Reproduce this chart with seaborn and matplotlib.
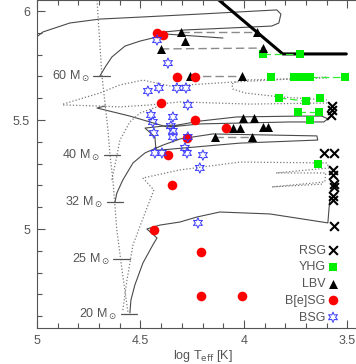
import numpy as np
import pandas as pd
import seaborn as sns
import matplotlib.pyplot as plt
from matplotlib.ticker import MultipleLocator

# --- stars: log Teff, log L/Lsun ---
rsg_teff = [3.575, 3.575, 3.580, 3.614, 3.565, 3.570, 3.570, 3.565, 3.565, 3.570, 3.570, 3.565]
rsg_lum = [5.564, 5.546, 5.523, 5.349, 5.349, 5.271, 5.248, 5.206, 5.193, 5.151, 5.133, 5.014]

yhg_teff = [3.908, 3.729, 3.870, 3.758, 3.720, 3.681, 3.512, 3.831, 3.700, 3.633, 3.739, 3.638, 3.681, 3.643]
yhg_lum = [5.803, 5.803, 5.697, 5.697, 5.697, 5.697, 5.697, 5.601, 5.587, 5.601, 5.537, 5.537, 5.500, 5.298]

lbv_teff = [4.304, 4.285, 4.401, 3.937, 3.908, 4.261, 4.010, 4.005, 3.952, 4.053, 4.019, 3.908, 3.884, 4.140, 3.961]
lbv_lum = [5.904, 5.862, 5.826, 5.904, 5.830, 5.702, 5.702, 5.509, 5.509, 5.463, 5.463, 5.468, 5.468, 5.422, 5.422]

besg_teff = [4.420, 4.391, 4.324, 4.237, 4.401, 4.237, 4.087, 4.275, 4.367, 4.348, 4.435, 4.208, 4.208, 4.010]
besg_lum = [5.899, 5.890, 5.697, 5.697, 5.578, 5.500, 5.463, 5.417, 5.339, 5.202, 4.995, 4.894, 4.693, 4.693]

bsg_teff = [4.420, 4.367, 4.464, 4.411, 4.324, 4.280, 4.271, 4.449, 4.440, 4.435, 4.343,
            4.353, 4.343, 4.343, 4.271, 4.430, 4.396, 4.285, 4.275, 4.198, 4.213, 4.222]
bsg_lum = [5.867, 5.761, 5.633, 5.647, 5.647, 5.647, 5.569, 5.523, 5.491, 5.440, 5.514,
           5.472, 5.450, 5.422, 5.422, 5.349, 5.349, 5.372, 5.349, 5.339, 5.280, 5.028]

# pairs of the same star at two epochs (teff1, teff2, lum1, lum2)
lbv_links = [(4.304, 3.937, 5.904, 5.904), (4.401, 3.908, 5.826, 5.830),
             (4.261, 4.010, 5.702, 5.702), (4.140, 3.961, 5.422, 5.422)]
yhg_links = [(3.908, 3.729, 5.803, 5.803), (3.681, 3.512, 5.697, 5.697),
             (3.831, 3.700, 5.601, 5.587), (3.739, 3.638, 5.537, 5.537)]

# Humphreys-Davidson limit
hd_teff = [4.133, 3.812, 3.505]
hd_lum = [6.06, 5.803, 5.803]

# --- evolutionary tracks ---
solid_tracks = [
    ([5.01, 4.971, 4.841, 4.696, 4.502, 4.213, 3.841, 3.821, 3.831, 3.865, 4.068, 4.285, 4.382],
     [5.875, 5.904, 5.945, 5.963, 5.972, 5.986, 6.005, 5.986, 5.945, 5.931, 5.922, 5.913, 5.904]),
    ([4.696, 4.667, 4.638, 4.575, 4.502, 4.420, 4.372, 4.101],
     [5.702, 5.748, 5.789, 5.839, 5.862, 5.881, 5.894, 5.876]),
    ([4.671, 4.710, 4.551, 4.372, 4.213, 4.034, 3.729, 3.623, 3.594, 3.614, 3.778, 4.019, 4.213, 4.357],
     [5.564, 5.555, 5.518, 5.468, 5.495, 5.514, 5.518, 5.518, 5.505, 5.491, 5.491, 5.486, 5.482, 5.468]),
    ([4.623, 4.614, 4.585, 4.536, 4.478, 4.391, 4.309, 4.150, 3.647, 3.643, 4.019, 4.406, 4.425, 4.430, 4.478, 4.343],
     [5.124, 5.165, 5.225, 5.303, 5.349, 5.385, 5.413, 5.436, 5.427, 5.408, 5.394, 5.362, 5.362, 5.422, 5.463, 5.477]),
    ([4.551, 4.546, 4.527, 4.488, 4.440, 4.420, 4.469, 4.406, 4.309, 4.227, 4.116, 3.874, 3.594, 3.589, 3.585],
     [4.615, 4.674, 4.743, 4.844, 4.927, 4.959, 5.000, 5.018, 5.032, 5.055, 5.078, 5.069, 5.028, 5.087, 5.133]),
]

dotted_tracks = [
    ([4.710, 4.686, 4.657, 4.647, 4.633, 4.614, 4.589, 4.560],
     [6.050, 5.702, 5.454, 5.339, 5.225, 4.995, 4.812, 4.615]),
    ([4.874, 4.696, 4.599, 4.488, 4.357, 4.053, 3.599],
     [5.573, 5.624, 5.661, 5.683, 5.656, 5.674, 5.697]),
    ([3.599, 4.019, 4.058, 4.053, 3.995, 3.826, 3.599],
     [5.693, 5.683, 5.665, 5.642, 5.624, 5.606, 5.592]),
    ([4.874, 4.696, 4.599, 4.454, 4.309, 3.971, 3.599],
     [5.569, 5.564, 5.560, 5.569, 5.583, 5.573, 5.578]),
    ([4.638, 4.618, 4.599, 4.551, 4.502, 4.420],
     [5.225, 5.317, 5.408, 5.491, 5.532, 5.560]),
    ([4.585, 4.565, 4.536, 4.469, 4.435, 4.488, 4.309, 4.019, 3.599, 3.589, 3.845, 3.604, 3.609, 3.865, 3.618],
     [4.628, 4.766, 4.927, 5.096, 5.179, 5.234, 5.271, 5.307, 5.303, 5.280, 5.257, 5.257, 5.216, 5.193, 5.206]),
]

# initial masses and ZAMS positions
masses = ['60', '40', '32', '25', '20']
zams_teff = [4.688, 4.638, 4.623, 4.592, 4.556]
zams_lum = [5.702, 5.339, 5.124, 4.862, 4.610]

GREY = '#555555'

sns.set_style('ticks')
plt.rcParams['font.family'] = ['Liberation Sans', 'DejaVu Sans']
plt.rcParams['mathtext.fontset'] = 'dejavusans'

fig = plt.figure(figsize=(3.56, 3.64), dpi=100)
ax = fig.add_axes([37 / 356, 1 - 328 / 364, 331 / 356, 328 / 364])

for t, l in solid_tracks:
    sns.lineplot(x=t, y=l, sort=False, estimator=None, color='#4a4a4a', lw=0.8, ax=ax, zorder=1)
for t, l in dotted_tracks:
    sns.lineplot(x=t, y=l, sort=False, estimator=None, color='#7a7a7a', lw=0.9,
                 ls=(0, (1, 1.6)), ax=ax, zorder=1)

sns.lineplot(x=hd_teff, y=hd_lum, sort=False, estimator=None, color='black', lw=2.2, ax=ax, zorder=2)

for t1, t2, l1, l2 in lbv_links:
    ax.plot([t1, t2], [l1, l2], color='#8a8a8a', lw=1.0, ls=(0, (6, 3)), zorder=2)
for t1, t2, l1, l2 in yhg_links:
    ax.plot([t1, t2], [l1, l2], color='#33ee33', lw=0.9, ls=(0, (6, 3)), zorder=2)

# mass labels with small ticks at the ZAMS
for m, t, l in zip(masses, zams_teff, zams_lum):
    ax.plot([t + 0.04, t - 0.04], [l, l], color=GREY, lw=0.9, zorder=2)
    ax.text(t + 0.055, l, f'{m} M$_\\odot$', ha='right', va='center', fontsize=9, color=GREY)

sns.scatterplot(x=yhg_teff, y=yhg_lum, marker='s', color='#00ee00', s=30, linewidth=0,
                ax=ax, zorder=3, label='YHG')
h_yhg = ax.collections[-1]
sns.scatterplot(x=rsg_teff, y=rsg_lum, marker='x', color='black', s=40, linewidth=1.5,
                ax=ax, zorder=3, label='RSG')
h_rsg = ax.collections[-1]
sns.scatterplot(x=lbv_teff, y=lbv_lum, marker='^', color='black', s=42, linewidth=0,
                ax=ax, zorder=4, label='LBV')
h_lbv = ax.collections[-1]
sns.scatterplot(x=besg_teff, y=besg_lum, marker='o', color='#ff0000', s=48, linewidth=0,
                ax=ax, zorder=4, label='B[e]SG')
h_besg = ax.collections[-1]
sns.scatterplot(x=bsg_teff, y=bsg_lum, marker=(6, 1, 0), color='#3a3aff', s=55, linewidth=0.7,
                ax=ax, zorder=5, label='BSG')
h_bsg = ax.collections[-1]
h_bsg.set_facecolor('none')
h_bsg.set_edgecolor('#3a3aff')

ax.set_xlim(5, 3.4)
ax.set_ylim(6 - 317 / 218, 6 + 11 / 218)
ax.set_xticks([5, 4.5, 4, 3.5])
ax.set_xticklabels(['5', '4.5', '4', '3.5'])
ax.set_yticks([5, 5.5, 6])
ax.set_yticklabels(['5', '5.5', '6'])
ax.xaxis.set_minor_locator(MultipleLocator(0.1))
ax.yaxis.set_minor_locator(MultipleLocator(0.1))
ax.tick_params(which='both', direction='in', top=True, right=True, color=GREY,
               labelcolor=GREY, labelsize=9, width=0.8)
ax.tick_params(which='major', length=6)
ax.tick_params(which='minor', length=3.5)
ax.tick_params(axis='x', pad=5)
ax.tick_params(axis='y', pad=5)
for sp in ax.spines.values():
    sp.set_color(GREY)
    sp.set_linewidth(0.8)

ax.set_xlabel('log T$_{\\rm eff}$ [K]', fontsize=9, color=GREY, labelpad=1)
# the reference crops this label at the left edge of the figure
ax.set_ylabel('log L/L$_\\odot$', fontsize=9, color=GREY)
ax.yaxis.set_label_coords(-0.103, 0.5)

ax.legend(handles=[h_rsg, h_yhg, h_lbv, h_besg, h_bsg],
          labels=['RSG', 'YHG', 'LBV', 'B[e]SG', 'BSG'],
          loc='lower right', bbox_to_anchor=(0.9635, 0.0975), bbox_transform=fig.transFigure,
          borderaxespad=0, markerfirst=False, frameon=False, fontsize=9, labelcolor=GREY,
          handlelength=0.8, handletextpad=0.2, labelspacing=0.38)

fig.savefig('out.png', dpi=100)
